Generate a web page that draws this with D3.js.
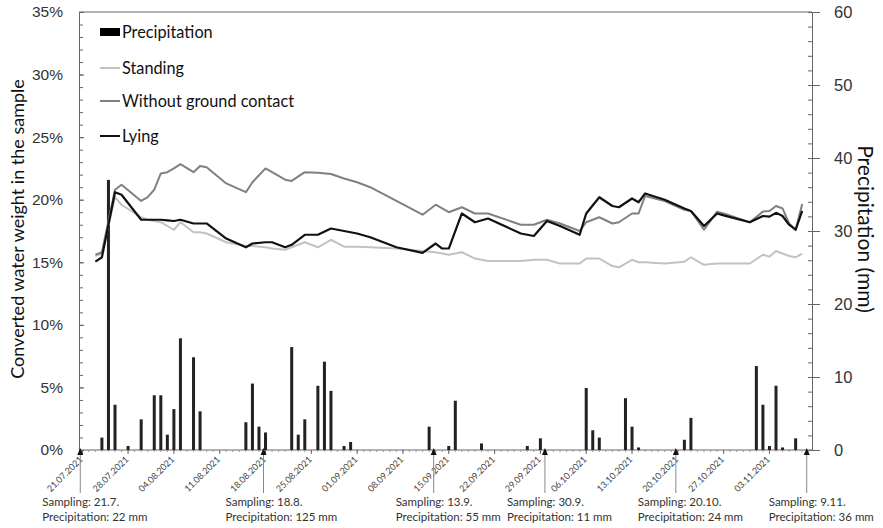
<!DOCTYPE html>
<html>
<head>
<meta charset="utf-8">
<script src="https://cdn.jsdelivr.net/npm/d3@7"></script>
<style>
  body { margin: 0; background: #fff; }
  svg { font-family: Lato, "Open Sans", sans-serif; }
</style>
</head>
<body>
<div id="chart"></div>
<script>
// === DATA ===
// day index 0 = 21.07.2021, last day 111 = 09.11.2021
const dayCount = 112;

const tickDays = [0, 7, 14, 21, 28, 35, 42, 49, 56, 63, 70, 77, 84, 91, 98, 105];
const tickLabels = ["21.07.2021", "28.07.2021", "04.08.2021", "11.08.2021", "18.08.2021",
    "25.08.2021", "01.09.2021", "08.09.2021", "15.09.2021", "22.09.2021", "29.09.2021",
    "06.10.2021", "13.10.2021", "20.10.2021", "27.10.2021", "03.11.2021"];

// daily precipitation (mm)
const rainDays = [3, 4, 5, 7, 9, 11, 12, 13, 14, 15, 17, 18, 25, 26, 27, 28, 32, 33, 34, 36, 37, 38,
    40, 41, 53, 56, 57, 61, 68, 70, 77, 78, 79, 83, 84, 85, 92, 93, 103, 104, 105, 106, 107, 109];
const rainMm = [1.7, 37, 6.2, 0.55, 4.2, 7.5, 7.5, 2.1, 5.6, 15.3, 12.7, 5.3, 3.8, 9.1, 3.2, 2.4, 14.1, 2.1, 4.2, 8.8, 12.1, 8.1,
    0.55, 1.1, 3.2, 0.55, 6.75, 0.9, 0.55, 1.6, 8.5, 2.7, 1.7, 7.1, 3.2, 0.35, 1.4, 4.4, 11.5, 6.2, 0.55, 8.8, 0.35, 1.6];

// converted water weight (%)
const lineDays = [2, 3, 5, 6, 9, 10, 11, 12, 13, 14, 15, 17, 18, 19, 22, 25, 26, 28, 29, 31, 32, 34, 36, 38, 40, 42,
    44, 48, 52, 54, 55, 56, 58, 60, 62, 67, 69, 71, 73, 76, 77, 79, 81, 82, 84, 85, 86, 89, 92, 93, 95, 97, 98,
    102, 104, 105, 106, 107, 108, 109, 110];
const standing = [15.5, 15.7, 20.2, 19.6, 18.6, 18.4, 18.3, 18.2, 17.9, 17.6, 18.2, 17.4, 17.4, 17.3, 16.6, 16.3, 16.3, 16.2, 16.1, 16.0, 16.2, 16.6, 16.2, 16.8, 16.25, 16.25,
    16.2, 16.1, 15.9, 15.8, 15.7, 15.6, 15.8, 15.3, 15.1, 15.1, 15.2, 15.2, 14.9, 14.9, 15.3, 15.3, 14.7, 14.6, 15.2, 15.0, 15.0, 14.9, 15.05, 15.4, 14.8, 14.9, 14.9,
    14.9, 15.6, 15.45, 15.9, 15.7, 15.5, 15.4, 15.7];
const withoutContact = [15.6, 15.8, 20.8, 21.2, 19.9, 20.2, 20.8, 22.1, 22.2, 22.5, 22.85, 22.2, 22.7, 22.6, 21.3, 20.6, 21.4, 22.5, 22.2, 21.6, 21.5, 22.2, 22.15, 22.05, 21.7, 21.4,
    21.0, 19.9, 18.8, 19.6, 19.3, 19.0, 19.4, 18.9, 18.9, 18.0, 18.0, 18.4, 18.1, 17.5, 18.2, 18.6, 18.1, 18.2, 18.9, 18.9, 20.3, 19.9, 19.2, 19.1, 17.6, 19.05, 18.9,
    18.2, 19.05, 19.1, 19.5, 19.3, 18.1, 17.6, 19.65];
const lying = [15.05, 15.4, 20.6, 20.4, 18.4, 18.4, 18.4, 18.4, 18.35, 18.3, 18.4, 18.1, 18.1, 18.1, 16.9, 16.2, 16.5, 16.6, 16.6, 16.2, 16.4, 17.2, 17.2, 17.7, 17.5, 17.3,
    17.0, 16.2, 15.75, 16.5, 16.1, 16.1, 18.9, 18.2, 18.5, 17.3, 17.1, 18.3, 17.9, 17.2, 18.9, 20.2, 19.5, 19.4, 20.1, 19.8, 20.5, 20.0, 19.3, 19.1, 17.9, 18.9, 18.75,
    18.2, 18.7, 18.65, 18.95, 18.7, 18.0, 17.6, 19.1];

const samplingDays = [0, 28, 54, 71, 91, 111];
const samplingText = ["Sampling: 21.7.", "Sampling: 18.8.", "Sampling: 13.9.", "Sampling: 30.9.", "Sampling: 20.10.", "Sampling: 9.11."];
const samplingRain = ["Precipitation: 22 mm", "Precipitation: 125 mm", "Precipitation: 55 mm", "Precipitation: 11 mm", "Precipitation: 24 mm", "Precipitation: 36 mm"];

const seriesNames = ["Standing", "Without ground contact", "Lying"];
const seriesColors = ["#c2c2c2", "#808080", "#111111"];

// === LAYOUT ===
const W = 883, H = 528;
const mLeft = 79, mRight = 812, mTop = 12, mBottom = 450;

const svg = d3.select("#chart").append("svg")
    .attr("width", W)
    .attr("height", H);

const x = d3.scaleBand()
    .domain(d3.range(dayCount))
    .range([mLeft, mRight])
    .padding(0);
const xc = d => x(d) + x.bandwidth() / 2;

const yL = d3.scaleLinear().domain([0, 0.35]).range([mBottom, mTop]);
const yR = d3.scaleLinear().domain([0, 60]).range([mBottom, mTop]);

const axisColor = "#666";

// === AXES ===
// left axis
const gL = svg.append("g").attr("transform", `translate(${mLeft},0)`)
    .call(d3.axisLeft(yL).tickValues(d3.range(0, 0.351, 0.05)).tickFormat(d3.format(".0%")).tickSize(-5).tickPadding(16));
gL.select(".domain").attr("stroke", axisColor);
gL.selectAll(".tick line").attr("stroke", axisColor);
gL.selectAll(".tick text").attr("font-size", 15.5).attr("fill", "#333");
svg.append("g").attr("transform", `translate(${mLeft},0)`)
    .call(d3.axisLeft(yL).tickValues(d3.range(0, 35.5, 1).map(v => v / 100)).tickFormat("").tickSize(-4))
    .call(g => g.select(".domain").remove())
    .selectAll(".tick line").attr("stroke", axisColor);

// right axis
const gR = svg.append("g").attr("transform", `translate(${mRight},0)`)
    .call(d3.axisRight(yR).tickValues(d3.range(0, 61, 10)).tickSize(8).tickPadding(14));
gR.select(".domain").attr("stroke", axisColor);
gR.selectAll(".tick line").attr("stroke", axisColor).attr("x1", -4);
gR.selectAll(".tick text").attr("font-size", 16.5).attr("fill", "#333");
svg.append("g").attr("transform", `translate(${mRight},0)`)
    .call(d3.axisRight(yR).tickValues(d3.range(0, 61, 2)).tickFormat("").tickSize(-4))
    .call(g => g.select(".domain").remove())
    .selectAll(".tick line").attr("stroke", axisColor);

// top frame line
svg.append("line")
    .attr("x1", mLeft).attr("x2", mRight)
    .attr("y1", mTop).attr("y2", mTop)
    .attr("stroke", axisColor);

// x axis: day ticks and weekly labels
const gX = svg.append("g").attr("transform", `translate(0,${mBottom})`);
gX.append("line").attr("x1", mLeft).attr("x2", mRight).attr("stroke", axisColor);
gX.selectAll(".dtick")
    .data(d3.range(dayCount))
    .join("line")
    .attr("x1", d => xc(d)).attr("x2", d => xc(d))
    .attr("y1", 0).attr("y2", 2)
    .attr("stroke", "#999");
gX.selectAll(".wtick")
    .data(tickDays)
    .join("line")
    .attr("x1", d => xc(d)).attr("x2", d => xc(d))
    .attr("y1", 0).attr("y2", 4)
    .attr("stroke", axisColor);
gX.selectAll(".wlabel")
    .data(tickDays)
    .join("text")
    .attr("transform", d => `translate(${xc(d) + 1},10) rotate(-45)`)
    .attr("text-anchor", "end")
    .attr("font-size", 9)
    .attr("fill", "#444")
    .text((d, i) => tickLabels[i]);

// axis titles
svg.append("text")
    .attr("transform", `translate(24,229) rotate(-90)`)
    .attr("text-anchor", "middle")
    .attr("font-size", 18)
    .attr("fill", "#111")
    .text("Converted water weight in the sample");

svg.append("text")
    .attr("transform", `translate(858,229) rotate(90)`)
    .attr("text-anchor", "middle")
    .attr("font-size", 21)
    .attr("fill", "#111")
    .text("Precipitation (mm)");

// === BARS ===
svg.selectAll(".bar")
    .data(rainDays)
    .join("rect")
    .attr("class", "bar")
    .attr("x", d => xc(d) - 1.5)
    .attr("width", 3)
    .attr("y", (d, i) => yR(rainMm[i]))
    .attr("height", (d, i) => mBottom - yR(rainMm[i]))
    .attr("fill", "#222");

// === LINES ===
const line = d3.line()
    .x(d => xc(d[0]))
    .y(d => yL(d[1] / 100));

[standing, withoutContact, lying].forEach((vals, k) => {
    svg.append("path")
        .datum(lineDays.map((d, i) => [d, vals[i]]))
        .attr("fill", "none")
        .attr("stroke", seriesColors[k])
        .attr("stroke-width", k === 2 ? 2.2 : 2)
        .attr("stroke-linejoin", "round")
        .attr("d", line);
});

// === SAMPLING MARKERS ===
const gS = svg.append("g");
samplingDays.forEach((d, i) => {
    const sx = xc(d) - 2;
    gS.append("line")
        .attr("x1", sx).attr("x2", sx)
        .attr("y1", mBottom + 3).attr("y2", 493)
        .attr("stroke", "#888").attr("stroke-width", 1);
    gS.append("path")
        .attr("d", `M${sx},${mBottom - 2} L${sx - 3},${mBottom + 5} L${sx + 3},${mBottom + 5} Z`)
        .attr("fill", "#111");
    gS.append("text")
        .attr("x", sx - 38).attr("y", 506)
        .attr("font-size", 11.5)
        .attr("fill", "#333")
        .text(samplingText[i]);
    gS.append("text")
        .attr("x", sx - 38).attr("y", 521)
        .attr("font-size", 11.5)
        .attr("fill", "#333")
        .text(samplingRain[i]);
});

// === LEGEND ===
const lg = svg.append("g").attr("transform", "translate(100,0)");
lg.append("rect")
    .attr("x", 0).attr("y", 28)
    .attr("width", 20).attr("height", 8)
    .attr("fill", "#000");
lg.append("text")
    .attr("x", 22).attr("y", 38)
    .attr("font-size", 16.3)
    .attr("fill", "#111")
    .text("Precipitation");
seriesNames.forEach((name, i) => {
    const ly = [68, 101, 136][i];
    lg.append("line")
        .attr("x1", 0).attr("x2", 20)
        .attr("y1", ly).attr("y2", ly)
        .attr("stroke", seriesColors[i]).attr("stroke-width", 2);
    lg.append("text")
        .attr("x", 22).attr("y", ly + 5.5)
        .attr("font-size", 16.3)
        .attr("fill", "#111")
        .text(name);
});
</script>
</body>
</html>
